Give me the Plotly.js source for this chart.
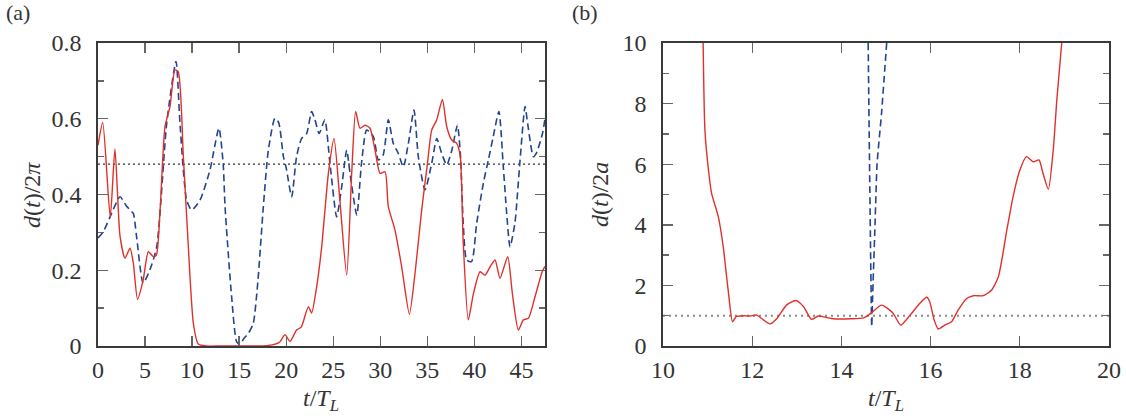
<!DOCTYPE html>
<html>
<head>
<meta charset="utf-8">
<script src="https://cdn.plot.ly/plotly-3.0.1.min.js"></script>
<style>
  html, body { margin: 0; padding: 0; background: #fff; }
  #chart { width: 1126px; height: 420px; }
</style>
</head>
<body>
<div id="chart"></div>
<script>
// Panel (a): separation d(t)/2π over time t/T_L
const tRedA = [0, 0.5, 1.3, 1.8, 2.34, 2.87, 3.4, 3.75, 4.2, 4.8, 5.35, 5.88, 6.2, 6.6, 7.12, 7.65, 8.18, 8.53, 9.07, 9.6, 10.13, 10.66, 11.5, 13, 15, 17, 18.5, 19.3, 19.87, 20.4, 21.1, 21.6, 22.35, 22.7, 23.24, 23.77, 24.48, 25.08, 25.7, 26.43, 26.96, 27.38, 27.84, 28.37, 28.9, 29.44, 29.97, 30.5, 30.85, 31.56, 32.27, 33.09, 33.69, 34.4, 35.0, 35.46, 35.99, 36.6, 37.06, 37.59, 38.12, 38.5, 38.8, 39.35, 39.9, 40.6, 41.13, 41.66, 42.19, 42.72, 43.54, 44.03, 44.67, 45.2, 45.73, 46.44, 47.2, 47.5];
const dRedA = [0.53, 0.59, 0.34, 0.52, 0.29, 0.232, 0.258, 0.22, 0.123, 0.174, 0.249, 0.236, 0.24, 0.36, 0.579, 0.632, 0.729, 0.724, 0.5, 0.262, 0.06, 0.005, 0, 0, 0, 0, 0.003, 0.01, 0.03, 0.012, 0.042, 0.05, 0.104, 0.087, 0.157, 0.262, 0.456, 0.548, 0.385, 0.187, 0.456, 0.619, 0.575, 0.583, 0.575, 0.517, 0.456, 0.46, 0.368, 0.306, 0.209, 0.084, 0.192, 0.36, 0.48, 0.57, 0.597, 0.651, 0.579, 0.544, 0.535, 0.5, 0.28, 0.069, 0.139, 0.196, 0.187, 0.209, 0.227, 0.179, 0.236, 0.139, 0.042, 0.069, 0.073, 0.13, 0.196, 0.21];

const tBlueA = [0, 0.57, 1.28, 2.34, 3.0, 3.4, 3.75, 4.1, 4.8, 5.5, 6.24, 7.3, 8.29, 8.71, 9.42, 9.95, 10.84, 11.9, 12.85, 13.3, 13.5, 14.2, 14.74, 15.1, 15.5, 15.97, 16.5, 17.0, 17.57, 18.1, 18.8, 19.2, 19.7, 20.0, 20.58, 21.1, 21.64, 22.17, 22.7, 23.06, 23.5, 24.1, 24.65, 25.36, 25.9, 26.43, 26.78, 27.5, 28.0, 28.55, 29.26, 29.8, 30.3, 30.85, 31.38, 31.9, 32.45, 32.98, 33.58, 34.04, 34.75, 35.46, 36.0, 36.5, 37.06, 37.6, 38.19, 38.5, 38.83, 39.18, 39.7, 40.24, 40.95, 41.48, 42.0, 42.6, 43.07, 43.43, 43.78, 44.3, 44.85, 45.38, 45.7, 46.26, 46.6, 47.23, 47.5];
const dBlueA = [0.285, 0.302, 0.341, 0.394, 0.37, 0.359, 0.35, 0.289, 0.166, 0.2, 0.262, 0.588, 0.751, 0.588, 0.385, 0.359, 0.385, 0.465, 0.575, 0.482, 0.368, 0.13, 0.011, 0.005, 0.02, 0.033, 0.06, 0.174, 0.368, 0.517, 0.601, 0.59, 0.5, 0.47, 0.394, 0.5, 0.548, 0.561, 0.619, 0.597, 0.561, 0.597, 0.482, 0.341, 0.421, 0.517, 0.456, 0.346, 0.482, 0.57, 0.553, 0.491, 0.504, 0.597, 0.535, 0.509, 0.473, 0.535, 0.623, 0.5, 0.412, 0.482, 0.548, 0.51, 0.478, 0.517, 0.583, 0.51, 0.315, 0.227, 0.223, 0.324, 0.43, 0.491, 0.553, 0.619, 0.473, 0.35, 0.262, 0.324, 0.491, 0.632, 0.58, 0.5, 0.51, 0.561, 0.6];

const tRangeA = [0, 47.5];
const levelA = 0.48;

// Panel (b): separation d(t)/2a over time t/T_L
const tRedB = [10.9, 10.94, 11.02, 11.09, 11.24, 11.35, 11.46, 11.56, 11.64, 11.8, 11.95, 12.1, 12.25, 12.4, 12.55, 12.77, 12.98, 13.15, 13.33, 13.48, 13.67, 13.82, 14.2, 14.5, 14.68, 14.9, 15.15, 15.33, 15.54, 15.76, 15.91, 15.98, 16.08, 16.17, 16.32, 16.47, 16.62, 16.81, 16.96, 17.18, 17.37, 17.52, 17.71, 17.85, 18.0, 18.15, 18.3, 18.43, 18.52, 18.64, 18.75, 18.83, 18.94];
const dRedB = [10, 7.13, 5.8, 5.04, 4.27, 3.28, 1.85, 0.8, 0.97, 1.0, 0.99, 1.02, 0.86, 0.73, 0.9, 1.35, 1.5, 1.3, 0.88, 0.99, 0.94, 0.9, 0.9, 0.93, 1.1, 1.35, 1.1, 0.69, 1.02, 1.41, 1.61, 1.46, 0.86, 0.56, 0.69, 0.8, 1.19, 1.57, 1.66, 1.66, 1.85, 2.29, 3.83, 4.93, 5.8, 6.25, 6.08, 6.14, 5.7, 5.17, 6.47, 8.12, 10];

const tBlueB = [14.6, 14.68, 14.7, 14.75, 14.8, 14.9, 15.015];
const dBlueB = [10, 0.64, 1.63, 3.83, 6.03, 7.68, 10];

const tRangeB = [10, 20];
const levelB = 1;

const RED = '#e0302a';
const BLUE = '#23448f';
const AXIS = '#3a3a3a';
const TXT = '#333333';
const FONT = '"Liberation Serif", "DejaVu Serif", serif';

const traces = [
  { x: tRangeA, y: [levelA, levelA], xaxis: 'x', yaxis: 'y', mode: 'lines',
    line: { color: '#333', width: 1.2, dash: '2px,3px' }, hoverinfo: 'skip' },
  { x: tBlueA, y: dBlueA, xaxis: 'x', yaxis: 'y', mode: 'lines',
    line: { color: BLUE, width: 1.6, dash: '7px,4px', shape: 'spline', smoothing: 0.6 } },
  { x: tRedA, y: dRedA, xaxis: 'x', yaxis: 'y', mode: 'lines',
    line: { color: RED, width: 1.4, shape: 'spline', smoothing: 0.6 } },

  { x: tRangeB, y: [levelB, levelB], xaxis: 'x2', yaxis: 'y2', mode: 'lines',
    line: { color: '#888', width: 2, dash: '2px,4px' }, hoverinfo: 'skip' },
  { x: tBlueB, y: dBlueB, xaxis: 'x2', yaxis: 'y2', mode: 'lines',
    line: { color: BLUE, width: 1.6, dash: '7px,4px', shape: 'spline', smoothing: 0.4 } },
  { x: tRedB, y: dRedB, xaxis: 'x2', yaxis: 'y2', mode: 'lines',
    line: { color: RED, width: 1.4, shape: 'spline', smoothing: 0.6 } }
];

const W = 1126, H = 420;
const plotTop = 43, plotBottom = 346;
const yDom = [(H - plotBottom) / H, (H - plotTop) / H];

function xAxis(domain, range, dtick, anchor) {
  return {
    domain: domain, range: range, dtick: dtick, tick0: range[0], anchor: anchor,
    showgrid: false, zeroline: false, showline: true, linecolor: AXIS, linewidth: 1.6,
    mirror: 'ticks', ticks: 'inside', ticklen: 10, tickwidth: 1.4, tickcolor: '#666',
    tickfont: { family: FONT, size: 24, color: TXT }, ticklabelstandoff: 2
  };
}
function yAxis(range, dtick, minor, anchor) {
  return {
    domain: yDom, range: range, dtick: dtick, tick0: 0, anchor: anchor,
    showgrid: false, zeroline: false, showline: true, linecolor: AXIS, linewidth: 1.6,
    mirror: 'ticks', ticks: 'inside', ticklen: 10, tickwidth: 1.4, tickcolor: '#666',
    minor: { dtick: minor, ticks: 'inside', ticklen: 6, tickwidth: 1.4, tickcolor: '#666', showgrid: false },
    tickfont: { family: FONT, size: 24, color: TXT }, ticklabelstandoff: 10
  };
}

const layout = {
  width: W, height: H,
  margin: { l: 0, r: 0, t: 0, b: 0 },
  paper_bgcolor: '#fff', plot_bgcolor: '#fff',
  showlegend: false,
  font: { family: FONT, color: TXT },
  xaxis: xAxis([98 / W, 545 / W], tRangeA, 5, 'y'),
  yaxis: yAxis([0, 0.8], 0.2, 0.1, 'x'),
  xaxis2: xAxis([663 / W, 1109 / W], tRangeB, 2, 'y2'),
  yaxis2: yAxis([0, 10], 2, 1, 'x2'),
  annotations: [
    { text: '(a)', xref: 'paper', yref: 'paper', x: 4 / W, y: 1 - 12 / H, xanchor: 'left', yanchor: 'middle',
      showarrow: false, font: { family: FONT, size: 22, color: TXT } },
    { text: '(b)', xref: 'paper', yref: 'paper', x: 570 / W, y: 1 - 12 / H, xanchor: 'left', yanchor: 'middle',
      showarrow: false, font: { family: FONT, size: 22, color: TXT } },
    { text: '<i>t</i>/<i>T</i><sub><i>L</i></sub>', xref: 'paper', yref: 'paper', x: 321 / W, y: 1 - 400 / H,
      xanchor: 'center', yanchor: 'middle', showarrow: false, font: { family: FONT, size: 24, color: TXT } },
    { text: '<i>t</i>/<i>T</i><sub><i>L</i></sub>', xref: 'paper', yref: 'paper', x: 886 / W, y: 1 - 400 / H,
      xanchor: 'center', yanchor: 'middle', showarrow: false, font: { family: FONT, size: 24, color: TXT } },
    { text: '<i>d</i>(<i>t</i>)/2<i>π</i>', xref: 'paper', yref: 'paper', x: 32 / W, y: 1 - 195 / H,
      xanchor: 'center', yanchor: 'middle', textangle: -90, showarrow: false, font: { family: FONT, size: 24, color: TXT } },
    { text: '<i>d</i>(<i>t</i>)/2<i>a</i>', xref: 'paper', yref: 'paper', x: 600 / W, y: 1 - 195 / H,
      xanchor: 'center', yanchor: 'middle', textangle: -90, showarrow: false, font: { family: FONT, size: 24, color: TXT } }
  ]
};

Plotly.newPlot('chart', traces, layout, { staticPlot: true, displayModeBar: false });
</script>
</body>
</html>
